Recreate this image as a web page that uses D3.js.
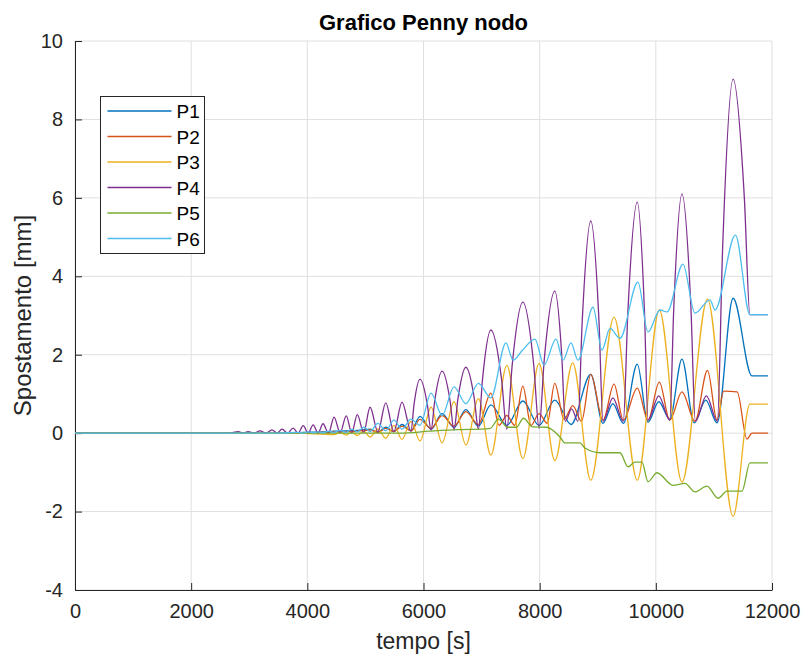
<!DOCTYPE html>
<html>
<head>
<meta charset="utf-8">
<script src="https://cdnjs.cloudflare.com/ajax/libs/d3/7.8.5/d3.min.js"></script>
<style>
  body { margin: 0; background: #fff; }
  svg { font-family: "Liberation Sans", Arial, sans-serif; }
</style>
</head>
<body>
<script>
// key points: [tempo (s), spostamento (mm)]
var P1 = [[0,0],[3500,0],[3930,0.02],[4270,0.03],[4460,0.05],[4670,0.06],[4860,0.07],[5080,0.1],[5215,0.02],[5350,0.15],[5490,0.04],[5630,0.22],[5785,0.06],[5940,0.43],[6130,0.1],[6320,0.5],[6525,0.15],[6730,0.6],[6945,0.18],[7160,0.72],[7435,0.2],[7710,0.82],[7990,0.2],[8260,0.84],[8540,0.22],[8880,1.5],[9090,0.25],[9260,0.75],[9440,0.25],[9680,1.76],[9865,0.28],[10050,0.8],[10240,0.36],[10450,1.89],[10660,0.26],[10860,0.84],[11053,0.26],[11330,3.44],[11655,1.46],[11930,1.46]];

var P2 = [[0,0],[3800,0],[4460,0.03],[4670,0.04],[4860,0.05],[5080,0.08],[5215,0.02],[5350,0.12],[5490,0.04],[5630,0.18],[5785,0.06],[5940,0.35],[6130,0.12],[6320,0.45],[6525,0.18],[6730,0.55],[6945,0.22],[7160,1.02],[7300,0.2],[7435,0.45],[7570,0.2],[7710,1.2],[7850,0.2],[7990,0.5],[8130,0.25],[8260,1.27],[8420,0.35],[8570,0.7],[8720,0.3],[8880,1.5],[9090,0.33],[9280,1.25],[9440,0.33],[9680,1.15],[9865,0.33],[10060,1.3],[10240,0.33],[10450,1.05],[10674,0.3],[10890,1.6],[11053,0.33],[11170,1.07],[11400,1.05],[11569,-0.15],[11655,0],[11930,0]];

var P3 = [[0,0],[3800,0],[4460,-0.04],[4565,0.02],[4670,-0.05],[4765,0.03],[4860,-0.06],[4970,0.05],[5080,-0.1],[5215,0.1],[5350,-0.13],[5490,0.2],[5630,-0.16],[5785,0.3],[5940,-0.2],[6130,0.66],[6320,-0.25],[6525,0.8],[6730,-0.3],[6945,0.88],[7160,-0.56],[7435,1.73],[7710,-0.65],[7990,1.78],[8260,-0.7],[8570,1.79],[8880,-1.2],[9280,2.96],[9680,-1.2],[10060,3.14],[10450,-1.25],[10890,3.42],[11330,-2.12],[11620,0.74],[11930,0.74]];

var P4 = [[0,0],[2650,0],[2810,0.04],[2895,0],[2980,0.04],[3080,0],[3185,0.06],[3290,0],[3390,0.085],[3480,0],[3565,0.1],[3660,0],[3755,0.13],[3840,0],[3930,0.19],[4015,0],[4100,0.21],[4185,0],[4270,0.24],[4365,0],[4460,0.41],[4565,0.01],[4670,0.44],[4765,0.01],[4860,0.47],[4970,0.02],[5080,0.66],[5215,0.03],[5350,0.77],[5490,0.04],[5630,0.79],[5785,0.05],[5836,0.72],[5940,1.38],[6067,0.72],[6130,0.07],[6193,0.82],[6320,1.58],[6457,0.83],[6525,0.08],[6593,0.88],[6730,1.68],[6874,0.89],[6945,0.1],[7016,1.37],[7160,2.63],[7344,1.37],[7435,0.1],[7526,1.72],[7710,3.34],[7898,1.73],[7990,0.12],[8079,1.87],[8260,3.62],[8381,1.96],[8440,0.3],[8550,0.62],[8660,0.3],[8733,2.86],[8880,5.41],[9021,2.86],[9090,0.3],[9260,0.9],[9440,0.3],[9519,3.1],[9680,5.89],[9804,3.11],[9865,0.33],[10050,0.95],[10240,0.33],[10309,3.2],[10450,6.1],[10604,3.2],[10680,0.3],[10870,0.95],[11060,0.3],[11149,4.67],[11330,9.03],[11524,6.0],[11620,3.02],[11930,3.02]];

var P5 = [[0,0],[5600,0],[6100,0.05],[6600,0.09],[7000,0.1],[7150,0.12],[7290,0.36],[7450,0.15],[7600,0.15],[7720,0.38],[7880,0.16],[8126,0.15],[8229,0.07],[8350,-0.1],[8436,-0.25],[8694,-0.25],[8780,-0.38],[9038,-0.5],[9383,-0.5],[9520,-0.86],[9641,-0.74],[9761,-0.74],[9865,-1.24],[10020,-1.01],[10295,-1.33],[10502,-1.28],[10674,-1.5],[10880,-1.35],[11070,-1.66],[11225,-1.48],[11483,-1.48],[11620,-0.76],[11930,-0.76]];

var P6 = [[0,0],[3500,0],[3840,0.02],[3930,0],[4015,0.03],[4100,0.01],[4185,0.03],[4270,0.01],[4365,0.05],[4460,0.02],[4565,0.07],[4670,0.02],[4765,0.1],[4860,0.03],[4970,0.15],[5080,0.04],[5215,0.25],[5350,0.06],[5490,0.33],[5630,0.1],[5785,0.36],[5940,0.2],[6130,1.02],[6320,0.45],[6525,1.18],[6730,0.75],[6945,1.27],[7160,0.9],[7420,2.3],[7541,1.86],[7696,2.1],[7919,2.4],[8074,1.73],[8281,2.4],[8402,1.86],[8539,2.3],[8660,1.86],[8918,3.21],[9073,2.12],[9211,2.67],[9383,2.42],[9692,3.85],[9865,2.58],[10072,3.14],[10192,3.09],[10467,4.31],[10674,3.06],[10932,3.4],[11018,3.14],[11370,5.05],[11620,3.02],[11930,3.02]];

var seriesNames = ["P1", "P2", "P3", "P4", "P5", "P6"];
var seriesData = [P1, P2, P3, P4, P5, P6];
var colors = ["#0072BD", "#D95319", "#EDB120", "#7E2F8E", "#77AC30", "#4DBEEE"];
var xTicks = [0, 2000, 4000, 6000, 8000, 10000, 12000];
var yTicks = [-4, -2, 0, 2, 4, 6, 8, 10];

var width = 805, height = 657;
var margin = {left: 75, right: 33, top: 41, bottom: 67};

var svg = d3.select("body").append("svg")
  .attr("width", width)
  .attr("height", height);

var x = d3.scaleLinear().domain([0, 12000]).range([margin.left, width - margin.right]);
var y = d3.scaleLinear().domain([-4, 10]).range([height - margin.bottom, margin.top]);

// grid
svg.append("g").selectAll("line.gx")
  .data(xTicks)
  .enter().append("line")
  .attr("x1", function(d) { return x(d); })
  .attr("x2", function(d) { return x(d); })
  .attr("y1", y(-4)).attr("y2", y(10))
  .attr("stroke", "#dfdfdf").attr("stroke-width", 1);

svg.append("g").selectAll("line.gy")
  .data(yTicks)
  .enter().append("line")
  .attr("x1", x(0)).attr("x2", x(12000))
  .attr("y1", function(d) { return y(d); })
  .attr("y2", function(d) { return y(d); })
  .attr("stroke", "#dfdfdf").attr("stroke-width", 1);

// axes, ticks pointing inward like matlab
var fmt = function(d) { return String(d); };
var xAxis = svg.append("g")
  .attr("transform", "translate(0," + y(-4) + ")")
  .call(d3.axisBottom(x).tickValues(xTicks).tickFormat(fmt).tickSizeInner(-7).tickSizeOuter(0).tickPadding(14));
var yAxis = svg.append("g")
  .attr("transform", "translate(" + x(0) + ",0)")
  .call(d3.axisLeft(y).tickValues(yTicks).tickFormat(fmt).tickSizeInner(-7).tickSizeOuter(0).tickPadding(12));

[xAxis, yAxis].forEach(function(ax) {
  ax.select(".domain").attr("stroke", "#262626");
  ax.selectAll(".tick line").attr("stroke", "#262626");
  ax.selectAll(".tick text")
    .attr("fill", "#262626")
    .style("font-size", "20px")
    .style("font-family", "'Liberation Sans', Arial, sans-serif");
});

// lines
var line = d3.line()
  .x(function(d) { return x(d[0]); })
  .y(function(d) { return y(d[1]); })
  .curve(d3.curveMonotoneX);

svg.append("g").selectAll("path.serie")
  .data(seriesData)
  .enter().append("path")
  .attr("class", "serie")
  .attr("d", line)
  .attr("fill", "none")
  .attr("stroke", function(d, i) { return colors[i]; })
  .attr("stroke-width", 1.3);

// title and labels
svg.append("text")
  .attr("x", (x(0) + x(12000)) / 2)
  .attr("y", 30)
  .attr("text-anchor", "middle")
  .style("font-size", "22px")
  .style("font-weight", "bold")
  .attr("fill", "#000")
  .text("Grafico Penny nodo");

svg.append("text")
  .attr("x", (x(0) + x(12000)) / 2)
  .attr("y", 649)
  .attr("text-anchor", "middle")
  .style("font-size", "23px")
  .attr("fill", "#262626")
  .text("tempo [s]");

svg.append("text")
  .attr("transform", "translate(31," + (y(3)) + ") rotate(-90)")
  .attr("text-anchor", "middle")
  .style("font-size", "24px")
  .attr("fill", "#262626")
  .text("Spostamento [mm]");

// legend
var legend = svg.append("g").attr("transform", "translate(100.5,96.5)");
legend.append("rect")
  .attr("width", 104)
  .attr("height", 157)
  .attr("fill", "#fff")
  .attr("stroke", "#262626")
  .attr("stroke-width", 1);

var item = legend.selectAll("g.item")
  .data(seriesNames)
  .enter().append("g")
  .attr("transform", function(d, i) { return "translate(0," + (14.5 + i * 25.5) + ")"; });

item.append("line")
  .attr("x1", 7).attr("x2", 71)
  .attr("stroke", function(d, i) { return colors[i]; })
  .attr("stroke-width", 1.3);

item.append("text")
  .attr("x", 76)
  .attr("y", 7)
  .style("font-size", "19px")
  .attr("fill", "#000")
  .text(function(d) { return d; });
</script>
</body>
</html>
